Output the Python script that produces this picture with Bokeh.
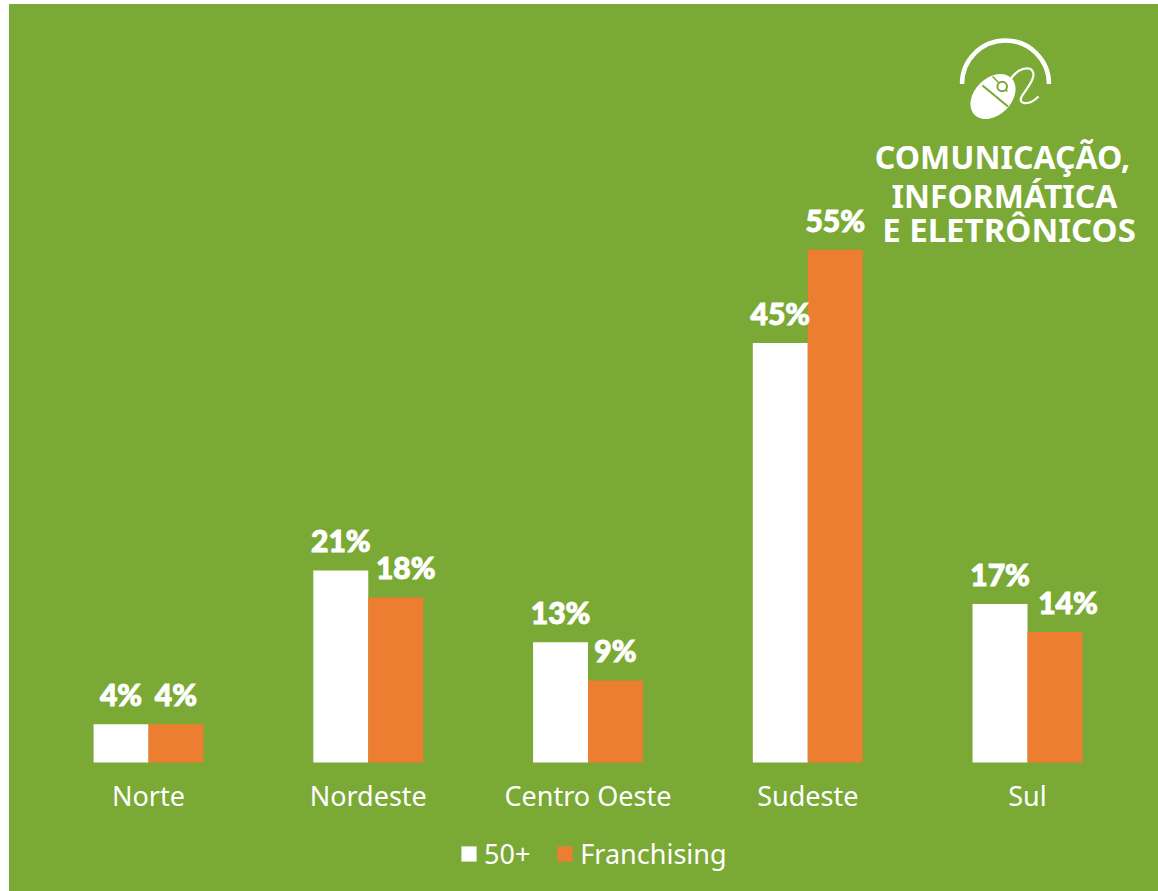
from bokeh.plotting import figure
from bokeh.embed import file_html
from bokeh.resources import INLINE
from bokeh.models import Range1d, Legend, LegendItem, ColumnDataSource, FixedTicker
from bokeh.core.properties import value
import math

categories = ["Norte", "Nordeste", "Centro Oeste", "Sudeste", "Sul"]
serie_50 = [4.1, 20.6, 12.9, 45.0, 17.0]
serie_fr = [4.1, 17.7, 8.8, 55.0, 14.0]
labels_50 = ["4%", "21%", "13%", "45%", "17%"]
labels_fr = ["4%", "18%", "9%", "55%", "14%"]
label_shift_fr = [0, 10, 0, 0, 13]
title_lines = ["COMUNICAÇÃO,", "INFORMÁTICA", "E ELETRÔNICOS"]

GREEN = "#7AA935"
ORANGE = "#ED7D31"
WHITE = "#FFFFFF"

OX, OY = 9, 4
W, H = 1149, 887
STEP = 219.75      # px per category
UNIT = 9.325       # px per percentage point
X0_PX, Y0_PX = 148.0, 762.0   # page position of first category, baseline

x_start = (OX - X0_PX) / STEP
x_end = (OX + W - X0_PX) / STEP
y_start = -(OY + H - Y0_PX) / UNIT
y_end = (Y0_PX - OY) / UNIT

p = figure(width=W, height=H, x_range=Range1d(x_start, x_end), y_range=Range1d(y_start, y_end),
           output_backend="svg", toolbar_location=None, y_axis_location=None,
           min_border=0, min_border_left=0, min_border_right=0, min_border_top=0, min_border_bottom=0,
           background_fill_color=GREEN, border_fill_color=GREEN, outline_line_color=None,
           styles={"margin-top": f"{OY}px", "margin-left": f"{OX}px", "background-color": GREEN})
p.grid.visible = False
ax = p.xaxis[0]
ax.fixed_location = 0
ax.ticker = FixedTicker(ticks=list(range(len(categories))))
ax.major_label_overrides = {i: c for i, c in enumerate(categories)}
ax.axis_line_color = None
ax.major_tick_line_color = None
ax.minor_tick_line_color = None
ax.major_label_text_color = WHITE
ax.major_label_text_font = "Noto Sans"
ax.major_label_text_font_size = "27px"
ax.major_label_standoff = 8

W_BAR = 0.25
idx = list(range(len(categories)))
src = ColumnDataSource(dict(xa=[i - W_BAR / 2 for i in idx], xb=[i + W_BAR / 2 for i in idx],
                            a=serie_50, b=serie_fr, la=labels_50, lb=labels_fr, sh=label_shift_fr))
r1 = p.vbar(x="xa", top="a", width=W_BAR, source=src, fill_color=WHITE, line_color=None)
r2 = p.vbar(x="xb", top="b", width=W_BAR, source=src, fill_color=ORANGE, line_color=None)

lab = dict(text_color=WHITE, text_font=value("Lato Black"), text_font_style="normal", text_font_size="30px",
           text_outline_color=WHITE,
           text_align="center", text_baseline="alphabetic", y_offset=-30, source=src)
p.text(x="xa", y="a", text="la", **lab)
p.text(x="xb", y="b", text="lb", x_offset="sh", **lab)

leg = Legend(items=[LegendItem(label="50+", renderers=[r1]), LegendItem(label="Franchising", renderers=[r2])],
             orientation="horizontal", location=(450, 19), background_fill_alpha=0, border_line_color=None,
             label_text_color=WHITE, label_text_font="Noto Sans", label_text_font_size="27px",
             glyph_width=19, glyph_height=19, spacing=25, padding=0, margin=0, label_standoff=6)
p.add_layout(leg, "center")

# icon and heading, drawn on a pixel-like range (page coordinates)
p.extra_x_ranges["px"] = Range1d(OX, OX + W)
p.extra_y_ranges["px"] = Range1d(OY + H, OY)
px = dict(x_range_name="px", y_range_name="px")
p.arc(x=[1005], y=[83.5], radius=[43.5], start_angle=0, end_angle=math.pi, direction="anticlock",
      line_color=WHITE, line_width=4.5, **px)
p.ellipse(x=[992.5], y=[96], width=[52], height=[37], angle=[math.radians(45)], fill_color=WHITE, line_color=None, **px)
p.line(x=[982, 1007.5], y=[85, 106], line_color=GREEN, line_width=2.2, **px)
p.line(x=[992, 1007], y=[76, 91], line_color=GREEN, line_width=1.6, **px)
p.circle(x=[1001.7], y=[86], radius=[4.8], fill_color=WHITE, line_color=GREEN, line_width=2, **px)
p.bezier(x0=[1009.3], y0=[80], x1=[1030], y1=[68.3], cx0=[1014], cy0=[72], cx1=[1022], cy1=[66], line_color=WHITE, line_width=2.2, **px)
p.bezier(x0=[1030], y0=[68.3], x1=[1021.7], y1=[95], cx0=[1038], cy0=[74], cx1=[1028], cy1=[86], line_color=WHITE, line_width=2.2, **px)
p.bezier(x0=[1021.7], y0=[95], x1=[1038], y1=[96], cx0=[1016], cy0=[104], cx1=[1028], cy1=[106], line_color=WHITE, line_width=2.2, **px)

title_y = [156, 195, 229]
title_x = [1002, 1004, 1008.5]
title_size = ["32px", "32px", "33px"]
for t, tx, ty, ts in zip(title_lines, title_x, title_y, title_size):
    p.text(x=[tx], y=[ty], text=[t], text_color=WHITE, text_font=value("Noto Sans"), text_font_style="bold",
           text_font_size=value(ts), text_align="center", text_baseline="alphabetic", **px)

open("out.html", "w").write(file_html(p, INLINE))
